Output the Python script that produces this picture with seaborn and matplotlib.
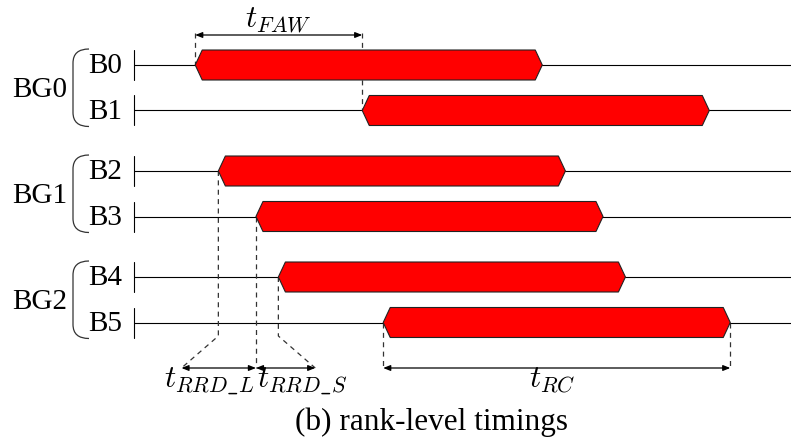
import matplotlib
matplotlib.use('Agg')
import matplotlib.pyplot as plt
from matplotlib.path import Path
from matplotlib.patches import PathPatch
import seaborn as sns

# ACT windows per bank (ns)
groups = ['BG0', 'BG1', 'BG2']
banks = ['B0', 'B1', 'B2', 'B3', 'B4', 'B5']
act_start = [0.0, 23.1, 3.2, 8.4, 11.5, 26.0]
t_rc = 48.0
rrd_reach = 5.1  # how far the tRRD arrows run past the guides
caption = '(b) rank-level timings'

sns.set_theme(style='white')
plt.rcParams['font.family'] = ['Liberation Serif', 'DejaVu Serif']
plt.rcParams['mathtext.fontset'] = 'cm'
plt.rcParams['text.color'] = 'black'

W, H = 791, 444
fig = plt.figure(figsize=(W / 100, H / 100), dpi=100)
ax = fig.add_axes([0, 0, 1, 1])
ax.set_xlim(-27.0, 82.4)
ax.set_ylim(H, 0)
ax.axis('off')
yt = ax.get_yaxis_transform()  # x in axes fraction, y in pixels

ROW_H = 15
TIP = 0.97
LBL = 21
MATH = 22.5
row_y = [65 + (i // 2) * 106 + (i % 2) * 45.5 for i in range(len(banks))]
line_x0 = 134 / W

# bank rows
for i, bank in enumerate(banks):
    y = row_y[i]
    ax.plot([line_x0, 1], [y, y], transform=yt, color='black', lw=0.8, zorder=1)
    ax.plot([line_x0, line_x0], [y - ROW_H, y + ROW_H], transform=yt,
            color='black', lw=0.8, zorder=1)
    ax.text(105 / W, y + 8, bank, transform=yt, ha='center', va='baseline',
            fontsize=LBL)
    x0 = act_start[i]
    x1 = x0 + t_rc
    xs = [x0, x0 + TIP, x1 - TIP, x1, x1 - TIP, x0 + TIP]
    ys = [y, y - ROW_H, y - ROW_H, y, y + ROW_H, y + ROW_H]
    ax.fill(xs, ys, facecolor='#ff0000', edgecolor='#222222', lw=0.8, zorder=3)

# bank group labels + brackets
bx_in, bx_out = 89 / W, 73 / W
for g, name in enumerate(groups):
    top = row_y[2 * g] - ROW_H - 1
    bot = row_y[2 * g + 1] + ROW_H + 1
    ax.text(40 / W, (row_y[2 * g] + row_y[2 * g + 1]) / 2 + 9, name,
            transform=yt, ha='center', va='baseline', fontsize=LBL)
    verts = [(bx_in, top), (bx_out, top), (bx_out, top + 14),
             (bx_out, bot - 14), (bx_out, bot), (bx_in, bot)]
    codes = [Path.MOVETO, Path.CURVE3, Path.CURVE3,
             Path.LINETO, Path.CURVE3, Path.CURVE3]
    ax.add_patch(PathPatch(Path(verts, codes), transform=yt, fill=False,
                           edgecolor='#333333', lw=0.9))

dash = dict(color='#333333', lw=0.9, ls=(0, (4, 3.5)), zorder=2)
arrow = dict(arrowstyle='<|-|>,head_length=0.35,head_width=0.14',
             color='black', lw=0.9, shrinkA=0, shrinkB=0)

def span(xa, xb, y):
    ax.annotate('', xy=(xb, y), xytext=(xa, y), arrowprops=arrow, zorder=4)

# tFAW on top
y_top = 35
ax.plot([act_start[0]] * 2, [y_top - 2, row_y[0]], **dash)
ax.plot([act_start[1]] * 2, [y_top - 2, row_y[1]], **dash)
span(act_start[0], act_start[1], y_top)
ax.text((act_start[0] + act_start[1]) / 2, 27, r'$t_{FAW}$',
        ha='center', va='baseline', fontsize=MATH)

# tRRD_L / tRRD_S / tRC at the bottom
y_bot = 368
knee = 336
ax.plot([act_start[2], act_start[2], act_start[2] - rrd_reach],
        [row_y[2], knee, y_bot], **dash)
ax.plot([act_start[3]] * 2, [row_y[3], y_bot], **dash)
ax.plot([act_start[4], act_start[4], act_start[4] + rrd_reach],
        [row_y[4], knee, y_bot], **dash)
span(act_start[2] - rrd_reach, act_start[3], y_bot)
span(act_start[3], act_start[4] + rrd_reach, y_bot)

ax.plot([act_start[5]] * 2, [row_y[5], y_bot], **dash)
ax.plot([act_start[5] + t_rc] * 2, [row_y[5], y_bot], **dash)
span(act_start[5], act_start[5] + t_rc, y_bot)

ax.text(act_start[3] - 0.3, 387, r'$t_{RRD\_L}$', ha='right', va='baseline',
        fontsize=MATH)
ax.text(act_start[3] + 0.1, 387, r'$t_{RRD\_S}$', ha='left', va='baseline',
        fontsize=MATH)
ax.text(act_start[5] + t_rc / 2 - 0.6, 387, r'$t_{RC}$', ha='center',
        va='baseline', fontsize=MATH)

ax.text(431 / W, 430, caption, transform=yt, ha='center', va='baseline',
        fontsize=22.5)

fig.savefig('out.png', dpi=100)
